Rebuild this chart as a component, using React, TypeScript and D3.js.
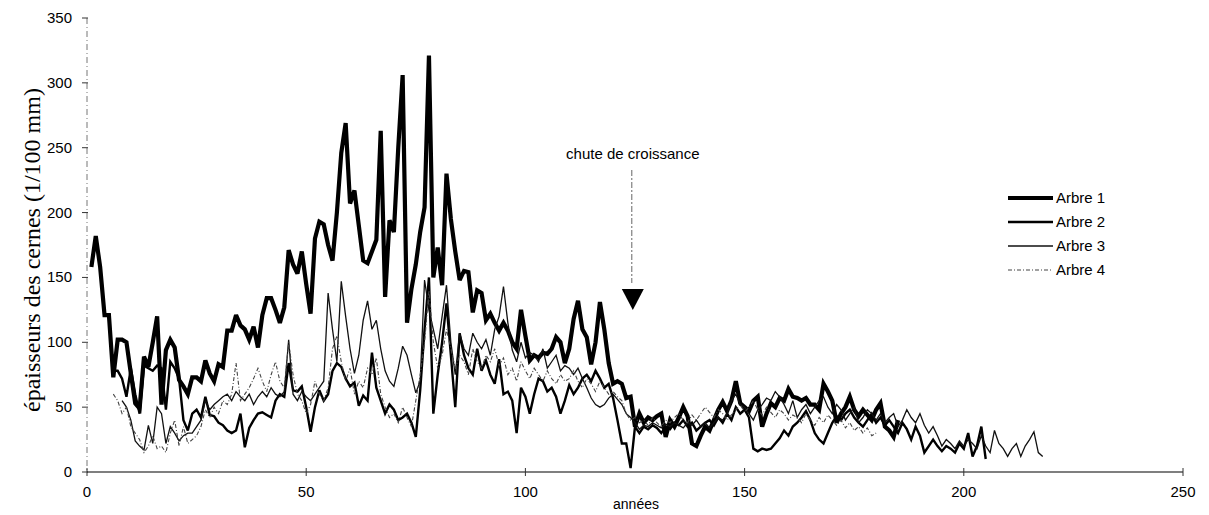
import React from "react";
import * as d3 from "d3";

// épaisseurs des cernes (1/100 mm), une valeur par année
const arbre1Start = 1;
const arbre1 = [
  158, 182, 158, 121, 121, 73, 102, 102, 100, 76,
  53, 49, 89, 81, 100, 120, 52, 94, 102, 96,
  71, 66, 60, 73, 73, 70, 86, 76, 70, 83,
  81, 109, 109, 121, 113, 110, 102, 112, 96, 121,
  134, 134, 125, 115, 127, 171, 160, 153, 170, 145,
  122, 180, 193, 191, 175, 163, 200, 246, 269, 207,
  217, 190, 163, 161, 170, 179, 263, 135, 194, 185,
  250, 306, 115, 141, 160, 185, 204, 321, 150, 173,
  144, 230, 195, 170, 148, 155, 154, 123, 140, 138,
  117, 122, 115, 109, 115, 109, 100, 95, 125, 105,
  86, 90, 88, 92, 91, 95, 104, 100, 84, 95,
  118, 132, 110, 104, 83, 100, 131, 110, 84, 68,
  70, 68, 57, 58, 35, 45, 38, 42, 40, 43,
  45, 27, 40, 35, 42, 50, 43, 22, 20, 28,
  35, 32, 40, 48, 54, 47, 55, 70, 53, 50,
  47, 55, 58, 35, 45, 53, 50, 57, 55, 64,
  58, 57, 55, 57, 52, 52, 48, 68, 62, 55,
  38, 45, 50, 58, 48, 43, 48, 44, 40, 48,
  53, 35, 32, 27, 40,
];

const arbre2Start = 6;
const arbre2 = [
  78, 78, 72, 58, 80, 60, 45, 82, 80, 78,
  82, 80, 48, 85, 80, 72, 40, 32, 45, 48,
  42, 58, 44, 43, 38, 36, 32, 30, 32, 45,
  19, 34, 40, 45, 46, 44, 42, 55, 60, 58,
  84, 63, 62, 66, 50, 31, 50, 63, 55, 60,
  78, 84, 81, 72, 66, 69, 51, 59, 55, 92,
  65, 55, 45, 52, 48, 40, 42, 45, 38, 27,
  63, 110, 150, 45, 75, 100, 130, 90, 50, 107,
  90, 80, 75, 95, 78, 86, 75, 68, 87, 60,
  62, 55, 30, 65, 58, 45, 60, 72, 70, 62,
  65, 58, 45, 55, 67, 60, 65, 72, 75, 70,
  78, 72, 65, 68, 57, 40, 22, 22, 3, 35,
  30, 35, 33, 36, 34, 30, 35, 33, 38, 36,
  40, 35, 38, 32, 35, 38, 40, 36, 42, 38,
  45, 40, 50, 45, 48, 42, 18, 16, 18, 17,
  18, 22, 26, 32, 28, 35, 38, 42, 47, 40,
  30, 25, 22, 30, 38, 43, 40, 45, 48, 42,
  38, 35, 40, 45, 38, 42, 36, 40, 35, 30,
  38, 33, 25, 35, 28, 15, 20, 25, 20, 16,
  20, 18, 15, 22, 18, 30, 12, 20, 35, 10,
];

const arbre3Start = 8;
const arbre3 = [
  55, 50, 40, 24, 20, 17, 36, 22, 50, 45,
  22, 35, 30, 24, 28, 30, 30, 35, 40, 55,
  48, 52, 55, 58, 60, 55, 62, 58, 55, 60,
  52, 58, 62, 58, 65, 60, 58, 62, 102, 60,
  55, 62, 58, 55, 60, 65, 70, 138, 110, 85,
  147, 120, 95, 76, 90, 117, 132, 110, 117, 95,
  78, 70, 66, 80, 97, 90, 75, 61, 70, 148,
  125, 110, 95, 120, 144, 100, 75, 107, 95, 90,
  107, 100, 95, 102, 90, 110, 120, 143, 115, 94,
  85, 100, 88, 92, 90, 85, 95, 80, 85, 90,
  78, 82, 80, 75, 80, 72, 65, 57, 52, 50,
  52, 57, 60, 56, 52, 45, 42, 38, 33, 36,
  35, 38, 36, 34, 37, 35, 38, 36, 34, 38,
  36, 40, 35, 38, 34, 38, 42, 40, 45, 55,
  60, 52, 50, 45, 40, 48, 52, 57, 55, 62,
  58, 52, 45, 55, 42, 48, 52, 45, 50, 55,
  58, 50, 45, 52, 48, 40, 45, 50, 38, 42,
  48, 45, 40, 45, 38, 42, 45, 35, 40, 48,
  42, 38, 45, 36, 30, 35, 28, 20, 25, 22,
  18, 24, 20, 25, 22, 18, 28, 20, 15, 32,
  22, 18, 12, 18, 22, 12, 20, 25, 31, 15,
  12,
];

const arbre4Start = 6;
const arbre4 = [
  60, 55, 45, 50, 35, 30, 25, 15, 20, 28,
  18, 20, 15, 30, 40, 20, 35, 22, 25, 28,
  35, 48, 42, 50, 45, 55, 52, 60, 84, 55,
  60, 65, 72, 80, 70, 62, 75, 85, 70, 65,
  100, 75, 60, 55, 45, 52, 70, 60, 55, 65,
  95, 105, 85, 70, 80, 60, 70, 65, 80, 75,
  88, 60, 50, 42, 45, 38, 50, 42, 35, 55,
  75, 100, 140, 100, 80, 90, 110, 95, 80, 90,
  85, 75, 95, 85, 80, 90, 85, 95, 82, 88,
  75, 80, 70, 85, 78, 72, 80, 75, 70, 78,
  72, 68, 75, 70, 72, 78, 70, 65, 72, 68,
  62, 70, 65, 60, 62, 58, 55, 45, 40, 42,
  38, 40, 36, 42, 38, 35, 40, 38, 42, 45,
  40, 38, 44, 40, 45, 50, 46, 42, 48, 45,
  40, 44, 48, 52, 46, 50, 55, 48, 44, 50,
  46, 42, 48, 45, 40, 44, 42, 38, 45, 40,
  36, 42, 38, 44, 40, 36, 40, 34, 38, 32,
  35, 30, 34, 28, 30,
];

const legendLabels = ["Arbre 1", "Arbre 2", "Arbre 3", "Arbre 4"];
const yTicks = [0, 50, 100, 150, 200, 250, 300, 350];
const xTicks = [0, 50, 100, 150, 200, 250];
const chuteYear = 124.5;

const series = [
  { start: arbre1Start, values: arbre1, width: 4.2, dash: "", color: "#000" },
  { start: arbre2Start, values: arbre2, width: 2.4, dash: "", color: "#000" },
  { start: arbre3Start, values: arbre3, width: 1.3, dash: "", color: "#111" },
  { start: arbre4Start, values: arbre4, width: 1.1, dash: "4,2,1,2", color: "#444" },
];

const App: React.FC = () => {
  const x = d3.scaleLinear().domain([0, 250]).range([87, 1183]);
  const y = d3.scaleLinear().domain([0, 350]).range([472, 18]);

  const paths = series.map((s) =>
    d3
      .line<number>()
      .x((_, i) => x(s.start + i))
      .y((d) => y(d))(s.values)
  );

  const sans = "'Liberation Sans', Arial, sans-serif";
  const ax = x(chuteYear);

  return (
    <svg
      width={1209}
      height={515}
      style={{ position: "absolute", left: 0, top: 0, background: "#fff" }}
    >
      {/* axe vertical */}
      <line x1={87} x2={87} y1={y(350)} y2={y(0)} stroke="#777" strokeWidth={1} strokeDasharray="6,3,1,3" />
      {yTicks.map((t) => (
        <g key={t}>
          <line x1={82} x2={88} y1={y(t)} y2={y(t)} stroke="#333" strokeWidth={1} />
          <text x={72} y={y(t) + 5} textAnchor="end" fontFamily={sans} fontSize={15}>
            {t}
          </text>
        </g>
      ))}
      {/* axe horizontal */}
      <line x1={87} x2={1183} y1={y(0)} y2={y(0)} stroke="#000" strokeWidth={1.2} />
      {xTicks.map((t) => (
        <g key={t}>
          <line x1={x(t)} x2={x(t)} y1={y(0) - 4} y2={y(0) + 4} stroke="#333" strokeWidth={1} />
          <text x={x(t)} y={497} textAnchor="middle" fontFamily={sans} fontSize={15}>
            {t}
          </text>
        </g>
      ))}
      <text x={636} y={509} textAnchor="middle" fontFamily={sans} fontSize={14}>
        années
      </text>
      <text
        transform={`translate(40, 250) rotate(-90)`}
        textAnchor="middle"
        fontFamily="'Liberation Serif', 'Times New Roman', serif"
        fontSize={24}
      >
        épaisseurs des cernes (1/100 mm)
      </text>

      {/* séries */}
      {series.map((s, i) => (
        <path
          key={i}
          d={paths[i] || ""}
          fill="none"
          stroke={s.color}
          strokeWidth={s.width}
          strokeDasharray={s.dash || undefined}
          strokeLinejoin="miter"
          strokeMiterlimit={3}
        />
      ))}

      {/* annotation */}
      <text x={ax} y={159} textAnchor="middle" fontFamily={sans} fontSize={15}>
        chute de croissance
      </text>
      <line x1={ax - 1} x2={ax - 1} y1={170} y2={283} stroke="#666" strokeWidth={1} strokeDasharray="6,2,2,2" />
      <path d={`M${ax - 11},289 L${ax + 11},289 L${ax},310 Z`} fill="#000" />

      {/* légende */}
      {legendLabels.map((lab, i) => {
        const ly = 198 + i * 24;
        const s = series[i];
        return (
          <g key={lab}>
            <line
              x1={1008}
              x2={1053}
              y1={ly}
              y2={ly}
              stroke={s.color}
              strokeWidth={s.width}
              strokeDasharray={s.dash || undefined}
            />
            <text x={1056} y={ly + 5} fontFamily={sans} fontSize={15}>
              {lab}
            </text>
          </g>
        );
      })}
    </svg>
  );
};

export default App;
